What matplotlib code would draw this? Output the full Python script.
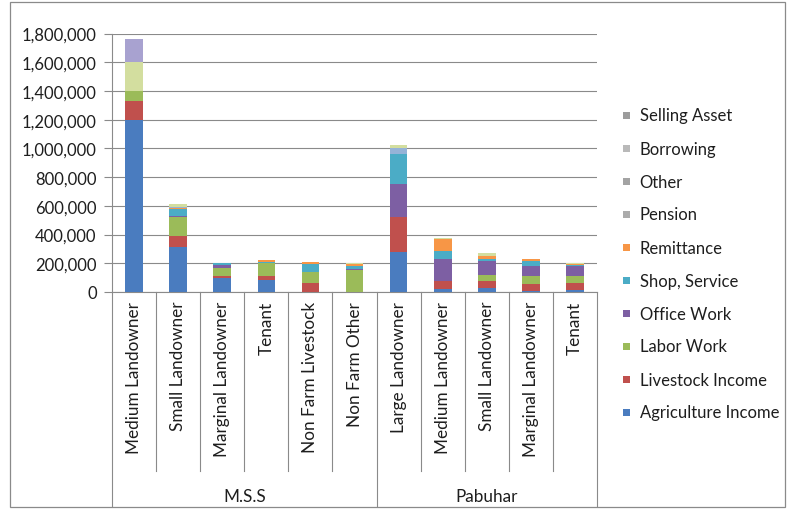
import matplotlib
matplotlib.use("Agg")
import matplotlib.pyplot as plt
from matplotlib.patches import Rectangle
from matplotlib.lines import Line2D
from matplotlib.transforms import blended_transform_factory
import numpy as np

plt.rcParams['font.family'] = ['Lato', 'DejaVu Sans']

# ---- data -------------------------------------------------------------
categories = ["Medium Landowner", "Small Landowner", "Marginal Landowner", "Tenant",
              "Non Farm Livestock", "Non Farm Other",
              "Large Landowner", "Medium Landowner", "Small Landowner",
              "Marginal Landowner", "Tenant"]
groups = ["M.S.S", "Pabuhar"]
group_sizes = [6, 5]

series_names = ["Agriculture Income", "Livestock Income", "Labor Work", "Office Work",
                "Shop, Service", "Remittance", "Pension", "Other", "Borrowing",
                "Selling Asset"]

agriculture = [1200000, 310000, 95000, 84000, 0, 0, 280000, 20000, 25000, 8000, 15000]
livestock = [130000, 80000, 17000, 28000, 66000, 0, 240000, 55000, 55000, 46000, 50000]
labor = [70000, 130000, 58000, 92000, 70000, 152000, 0, 5000, 35000, 58000, 45000]
office = [0, 10000, 15000, 0, 0, 10000, 235000, 148000, 100000, 69000, 70000]
shop = [0, 45000, 15000, 5000, 57000, 18000, 205000, 58000, 18000, 35000, 5000]
remittance = [0, 10000, 0, 12000, 17000, 12000, 0, 80000, 18000, 17000, 13000]
pension = [0, 5000, 0, 0, 0, 0, 45000, 0, 0, 0, 0]
other = [0, 0, 0, 0, 0, 0, 0, 0, 0, 0, 0]
borrowing = [200000, 20000, 0, 0, 0, 8000, 20000, 12000, 20000, 0, 7000]
selling_asset = [160000, 0, 0, 0, 0, 0, 0, 0, 0, 0, 0]

series_values = [agriculture, livestock, labor, office, shop, remittance,
                 pension, other, borrowing, selling_asset]

y_ticks = [0, 200000, 400000, 600000, 800000, 1000000, 1200000, 1400000, 1600000, 1800000]

# ---- styling ----------------------------------------------------------
bar_colors = ["#4A7CBF", "#C0504D", "#9BBB59", "#7D5FA3", "#4BACC6", "#F79646",
              "#95B3D7", "#D99694", "#D3DE9F", "#A8A2D0"]
legend_colors = ["#4A7CBF", "#C0504D", "#9BBB59", "#7D5FA3", "#4BACC6", "#F79646",
                 "#ababab", "#a3a3a3", "#b9b9b9", "#9c9c9c"]
grid_color = "#8a8a8a"
text_color = "#1e1e1e"
fs = 12.3

W, H = 787, 510
fig = plt.figure(figsize=(W / 100, H / 100), dpi=100)
fig.patch.set_facecolor("white")

# plot area in pixel coordinates
left_px, right_px, top_px, bottom_px = 112, 597, 34.5, 293
ax = fig.add_axes([left_px / W, 1 - bottom_px / H,
                   (right_px - left_px) / W, (bottom_px - top_px) / H])

x = np.arange(len(categories))
bottom = np.zeros(len(categories))
for name, vals, col in zip(series_names, series_values, bar_colors):
    vals = np.asarray(vals, dtype=float)
    ax.bar(x, vals, width=0.4, bottom=bottom, color=col, edgecolor="none",
           label=name, zorder=3)
    bottom += vals

ax.set_xlim(-0.5, len(categories) - 0.5)
ax.set_ylim(0, 1800000)
ax.set_yticks(y_ticks)
ax.set_yticklabels([f"{v:,}" for v in y_ticks], fontsize=12, color=text_color)
ax.tick_params(axis="y", length=6, width=0.8, color=grid_color, pad=5)
ax.set_xticks([])
ax.yaxis.grid(True, color=grid_color, linewidth=0.8, zorder=0)
for s in ["top", "right"]:
    ax.spines[s].set_visible(False)
ax.spines["left"].set_color(grid_color)
ax.spines["left"].set_linewidth(0.8)
ax.spines["bottom"].set_color(grid_color)
ax.spines["bottom"].set_linewidth(0.8)

# ---- multi-level category axis ----------------------------------------
trans = blended_transform_factory(ax.transData, ax.transAxes)
plot_h = bottom_px - top_px
lvl1_bottom = (bottom_px - 472) / plot_h
lvl2_bottom = (bottom_px - 507) / plot_h
label_top = (bottom_px - 302) / plot_h
group_y = (bottom_px - 497) / plot_h

group_edges = np.cumsum([0] + group_sizes) - 0.5
for b in np.arange(len(categories) + 1) - 0.5:
    yb = lvl2_bottom if b in group_edges else lvl1_bottom
    ax.add_line(Line2D([b, b], [0, yb], transform=trans, color=grid_color,
                       linewidth=0.8, clip_on=False))

for xi, cat in zip(x, categories):
    ax.text(xi, label_top, cat, transform=trans, rotation=90, ha="center",
            va="top", fontsize=fs, color=text_color)

for g, (a, b) in zip(groups, zip(group_edges[:-1], group_edges[1:])):
    ax.text((a + b) / 2, group_y, g, transform=trans, ha="center", va="center",
            fontsize=fs, color=text_color)

# ---- legend (top entry = last series) ---------------------------------
leg_y0 = 116.5
leg_step = 33
for i, (name, col) in enumerate(zip(series_names[::-1], legend_colors[::-1])):
    yc = leg_y0 + i * leg_step
    fig.patches.append(Rectangle(((623) / W, 1 - (yc + 3.5) / H), 7 / W, 7 / H,
                                 transform=fig.transFigure, facecolor=col,
                                 edgecolor="none"))
    fig.text(639.5 / W, 1 - yc / H, name, ha="left", va="center", fontsize=12,
             color=text_color)

# chart frame
fig.patches.append(Rectangle((9.5 / W, 2.5 / H), (785 - 9.5) / W, (507 - 2.5) / H,
                             transform=fig.transFigure, fill=False,
                             edgecolor="#8a8a8a", linewidth=0.9))

fig.savefig("out.png", dpi=100, facecolor="white")
